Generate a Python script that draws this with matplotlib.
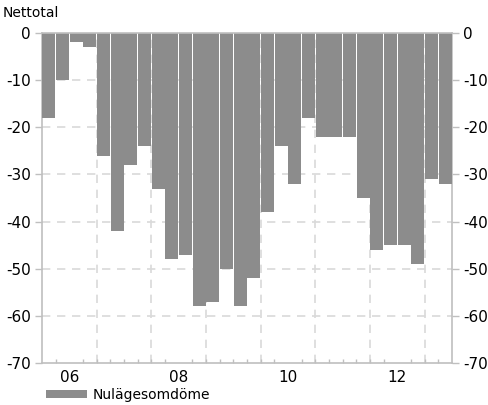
import matplotlib
matplotlib.use("Agg")
import matplotlib.pyplot as plt
from matplotlib.patches import Patch
import numpy as np

# Quarterly data 2006Q1 - 2013Q2
start_year = 2006
values = [-18, -10, -2, -3,
          -26, -42, -28, -24,
          -33, -48, -47, -58,
          -57, -50, -58, -52,
          -38, -24, -32, -18,
          -22, -22, -22, -35,
          -46, -45, -45, -49,
          -31, -32]
y_ticks = [0, -10, -20, -30, -40, -50, -60, -70]
x_label_years = [2006, 2008, 2010, 2012]
x_labels = ["06", "08", "10", "12"]
series_name = "Nulägesomdöme"
y_title = "Nettotal"

bar_color = "#8c8c8c"
grid_color = "#d9d9d9"
spine_color = "#bfbfbf"

plt.rcParams['font.family'] = ['DejaVu Sans']

fig = plt.figure(figsize=(4.89, 4.05), dpi=100)
ax = fig.add_axes([42/489, 1-363/405, (452-42)/489, (363-33)/405])

n = len(values)
x = start_year + (np.arange(n) + 0.5) / 4
ax.bar(x, values, width=0.25*0.93, color=bar_color, zorder=3, linewidth=0)

ax.set_xlim(start_year, start_year + n/4)
ax.set_ylim(-70, 0)

# gridlines (behind bars)
for yv in y_ticks[1:-1]:
    ax.axhline(yv, color=grid_color, linestyle=(0, (5, 4)), linewidth=1.2, zorder=1)
for xv in range(start_year+1, int(start_year + n/4) + 1):
    ax.axvline(xv, color=grid_color, linestyle=(0, (5, 4)), linewidth=1.2, zorder=1)

for s in ['left', 'right', 'bottom', 'top']:
    ax.spines[s].set_color(spine_color)
    ax.spines[s].set_linewidth(1.2)
ax.spines['top'].set_zorder(5)

ax.set_yticks(y_ticks)
ax.set_yticklabels([str(v) for v in y_ticks])
ax.tick_params(axis='y', which='both', left=True, right=True, labelleft=True, labelright=True,
               length=5, width=1, color=spine_color, labelsize=11, pad=3, direction='out')

ax.set_xticks([yr + 0.5 for yr in x_label_years])
ax.set_xticklabels(x_labels)
ax.set_xticks(start_year + np.arange(1, n) / 4, minor=True)
ax.tick_params(axis='x', which='major', length=0, labelsize=11, pad=5)
ax.tick_params(axis='x', which='minor', length=3, width=1, color=spine_color, direction='in')

fig.text(3/489, 1-13/405, y_title, fontsize=10, ha='left', va='center')

handle = Patch(facecolor=bar_color, edgecolor='none')
fig.legend([handle], [series_name], loc='center left', bbox_to_anchor=(40/489, 1-395/405),
           frameon=False, fontsize=10, handlelength=3.0, handleheight=0.55, handletextpad=0.4,
           borderaxespad=0)

fig.savefig("out.png", dpi=100)
